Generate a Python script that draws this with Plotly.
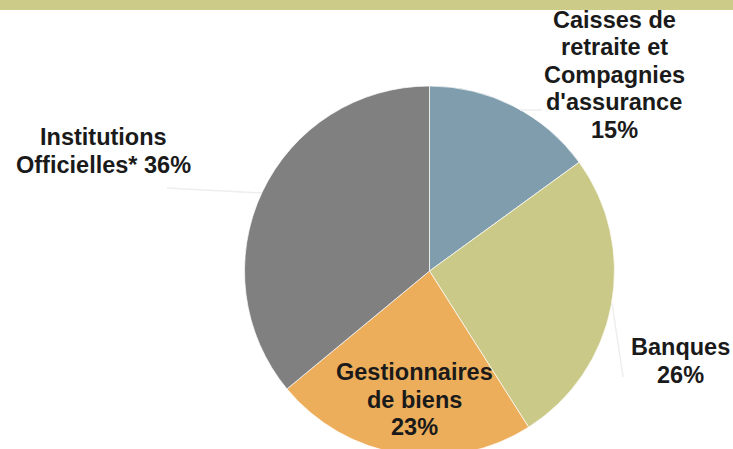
import plotly.graph_objects as go

# ---- data ----
categories = ["Caisses de retraite et Compagnies d'assurance", "Banques",
              "Gestionnaires de biens", "Institutions Officielles*"]
shares = [15, 26, 23, 36]
# label text as it is broken into lines in the chart ({} = percentage)
label_lines = [
    ["Caisses de", "retraite et", "Compagnies", "d'assurance", "{}%"],
    ["Banques", "{}%"],
    ["Gestionnaires", "de biens", "{}%"],
    ["Institutions", "Officielles* {}%"],
]
colors = ["#7f9dac", "#cbc988", "#edae5b", "#808080"]

# ---- layout constants (pixels) ----
W, H = 733, 456          # figure slightly taller than window: pie is cut at bottom
label_pos = [(614, 20), (680, 347), (414, 372), (103, 137)]  # centre of first line
line_gap = 27.5
font = dict(family="Liberation Sans, Arial, sans-serif", size=23.5, color="#1a1a1a")

cx, top = 429.5, 86
r = (H - top) / 2

fig = go.Figure(go.Pie(
    labels=categories, values=shares, sort=False, direction="clockwise",
    rotation=0, textinfo="none", hoverinfo="label+percent",
    marker=dict(colors=colors, line=dict(color="rgba(255,255,255,0.7)", width=1)),
    domain=dict(x=[(cx - r) / W, (cx + r) / W], y=[0, 1 - top / H]),
    showlegend=False,
))

annotations = []
for lines, val, (x, y) in zip(label_lines, shares, label_pos):
    for i, ln in enumerate(lines):
        annotations.append(dict(
            text="<b>" + ln.format(val) + "</b>", x=x / W, y=1 - (y + i * line_gap) / H,
            xref="paper", yref="paper", showarrow=False, font=font,
            xanchor="center", yanchor="middle"))

shapes = [
    dict(type="rect", xref="paper", yref="paper", x0=0, x1=1, y0=1 - 10 / H, y1=1,
         fillcolor="#cccb88", line_width=0, layer="above"),
    # faint leader lines
    dict(type="line", xref="paper", yref="paper", x0=167 / W, y0=1 - 188 / H,
         x1=262 / W, y1=1 - 193 / H, line=dict(color="#eeeeee", width=1.5)),
    dict(type="line", xref="paper", yref="paper", x0=612 / W, y0=1 - 303 / H,
         x1=623 / W, y1=1 - 377 / H, line=dict(color="#eeeeee", width=1.5)),
    dict(type="line", xref="paper", yref="paper", x0=520 / W, y0=1 - 110 / H,
         x1=542 / W, y1=1 - 110 / H, line=dict(color="#eeeeee", width=1.5)),
]

fig.update_layout(
    width=W, height=H, margin=dict(l=0, r=0, t=0, b=0),
    paper_bgcolor="white", plot_bgcolor="white",
    annotations=annotations, shapes=shapes,
)

fig.write_html(
    "out.html",
    config={"displayModeBar": False},
    post_script="document.body.style.margin='0';"
                "document.documentElement.style.overflow='hidden';"
                "document.body.style.overflow='hidden';",
)
